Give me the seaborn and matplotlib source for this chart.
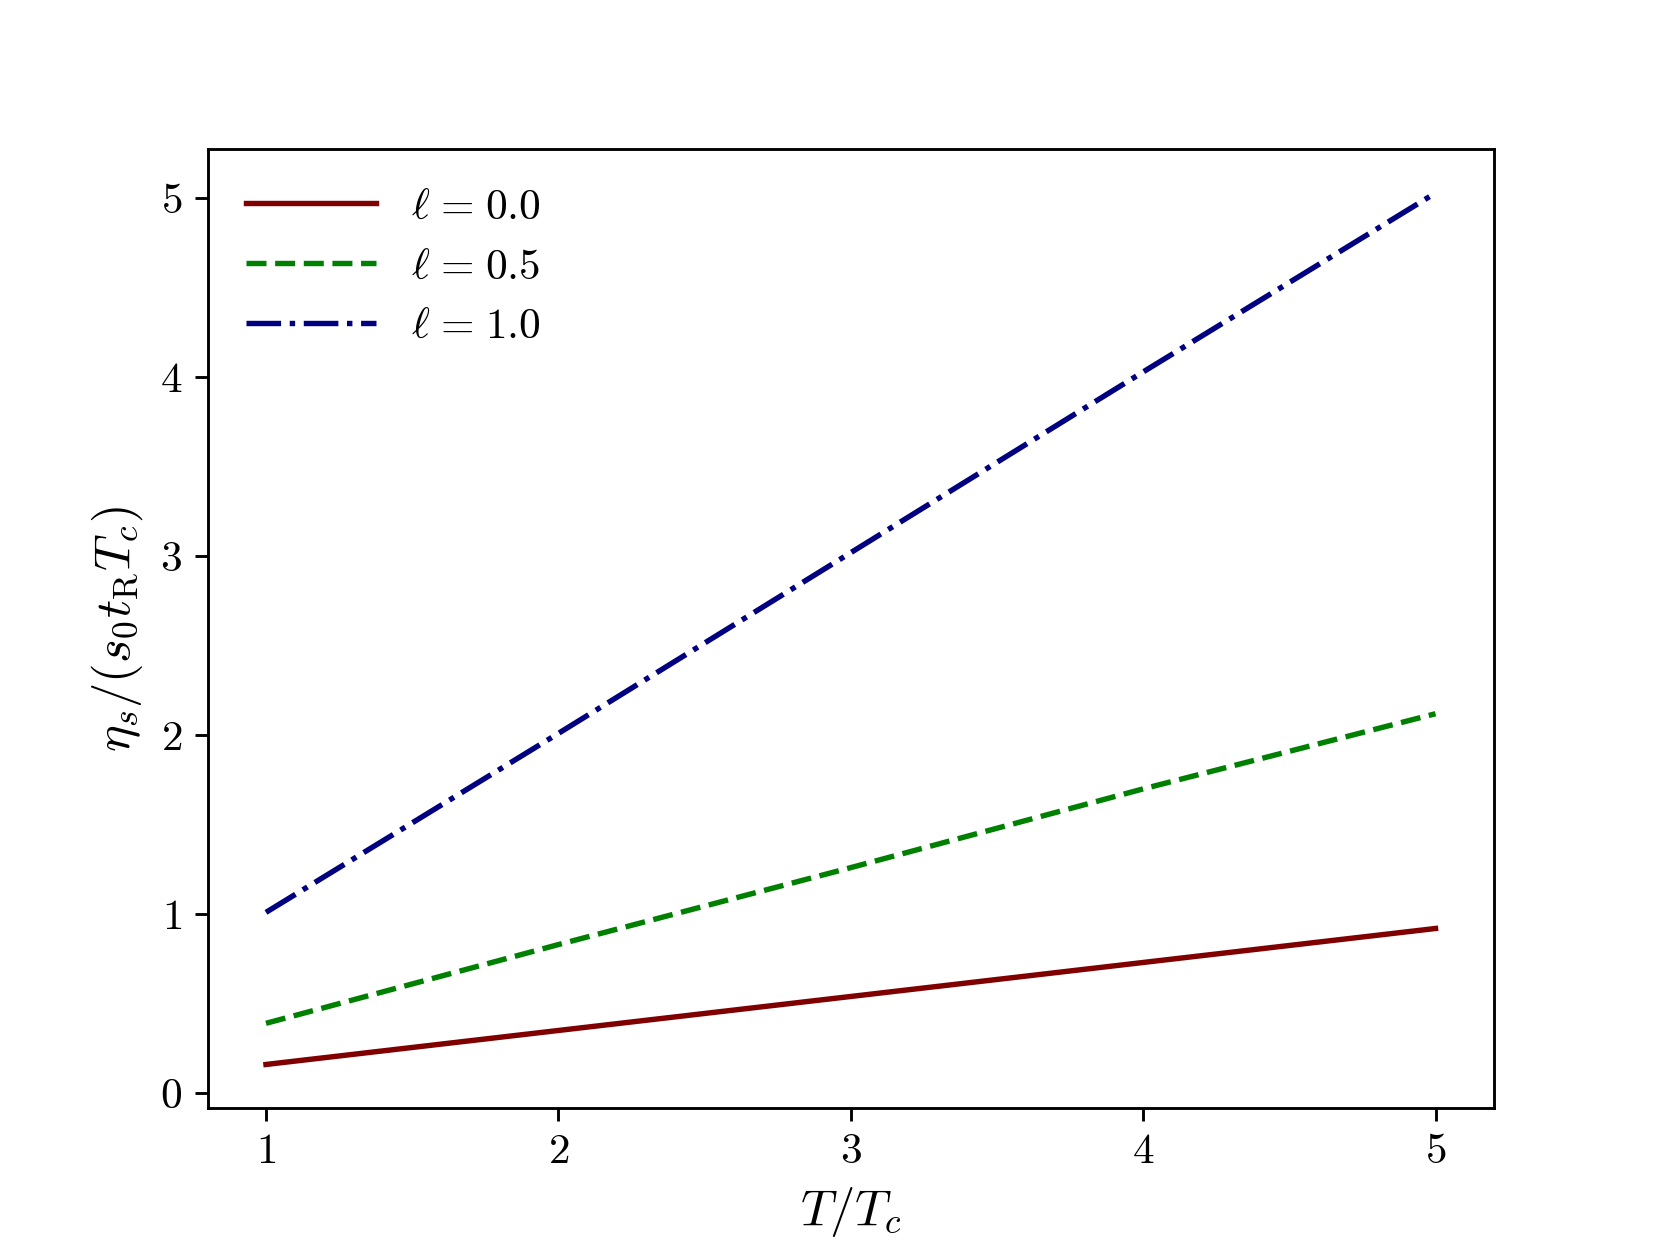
import matplotlib
matplotlib.use("Agg")
import matplotlib.pyplot as plt
import seaborn as sns
import numpy as np

plt.rcParams['font.family'] = 'serif'
plt.rcParams['font.serif'] = ['cmr10', 'DejaVu Serif']
plt.rcParams['mathtext.fontset'] = 'cm'
plt.rcParams['axes.formatter.use_mathtext'] = True

T = [1, 2, 3, 4, 5]
eta_l00 = [0.16, 0.35, 0.54, 0.73, 0.92]
eta_l05 = [0.39, 0.83, 1.26, 1.70, 2.12]
eta_l10 = [1.01, 2.01, 3.02, 4.03, 5.03]
labels = [r'$\ell\hspace{0.1}=\hspace{0.1}0.0$', r'$\ell\hspace{0.1}=\hspace{0.1}0.5$',
          r'$\ell\hspace{0.1}=\hspace{0.1}1.0$']
colors = ['maroon', 'green', 'navy']
styles = ['-', '--', '-.']

fig, ax = plt.subplots(figsize=(6.4, 4.8), dpi=259.375)
for y, lab, c, ls in zip([eta_l00, eta_l05, eta_l10], labels, colors, styles):
    sns.lineplot(x=T, y=y, ax=ax, color=c, linestyle=ls, linewidth=1.5, label=lab)

ax.set_xticks([1, 2, 3, 4, 5])
ax.set_yticks([0, 1, 2, 3, 4, 5])
ax.tick_params(labelsize=12)
ax.set_xlabel(r'$T/T_c$', fontsize=14)
ax.set_ylabel(r'$\eta_s/(s_0 t_{\mathrm{R}} T_c)$', fontsize=14)
ax.legend(loc='upper left', frameon=False, fontsize=12, handlelength=3)
fig.savefig('out.png', dpi=259.375)
